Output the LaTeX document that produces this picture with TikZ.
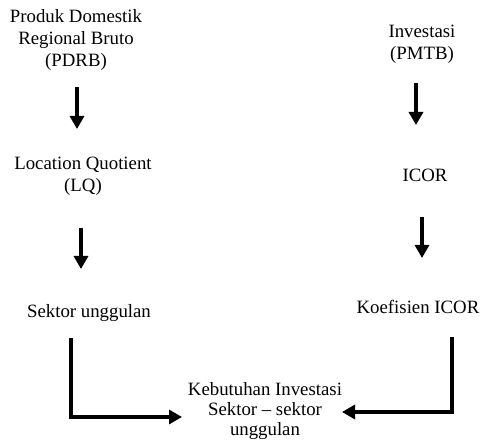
\documentclass[tikz,border=0pt]{standalone}
\usepackage{fontspec}
\setmainfont{Liberation Serif}
\usetikzlibrary{arrows.meta}
\begin{document}
\begin{tikzpicture}[x=1pt,y=-1pt,
  lbl/.style={align=center,inner sep=0pt,anchor=base,font=\fontsize{18.8}{22}\selectfont},
  arr/.style={line width=3.2pt,-{Triangle[width=14pt,length=13pt]}}]
\useasboundingbox (0,0) rectangle (480,441);
\node[lbl] (pdrb) at (76,67) {Produk Domestik\\Regional Bruto\\(PDRB)};
\node[lbl] (lq) at (83,192) {Location Quotient\\(LQ)};
\node[lbl] (sek) at (89,317) {Sektor unggulan};
\node[lbl] (inv) at (422,60) {Investasi\\(PMTB)};
\node[lbl] (icor) at (425,182) {ICOR};
\node[lbl] (koef) at (418,313) {Koefisien ICOR};
\node[lbl,font=\fontsize{18.8}{20}\selectfont] (keb) at (265,435) {Kebutuhan Investasi\\Sektor -- sektor\\unggulan};
\coordinate (a1s) at (77,87);  \coordinate (a1e) at (77,129);
\coordinate (a2s) at (81,228); \coordinate (a2e) at (81,269);
\coordinate (b1s) at (416,83); \coordinate (b1e) at (416,125);
\coordinate (b2s) at (422,217);\coordinate (b2e) at (422,258);
\coordinate (ls) at (71,338);  \coordinate (le) at (182,417);
\coordinate (rs) at (452,337); \coordinate (re) at (342,412);
\draw[arr] (a1s) -- (a1e);
\draw[arr] (a2s) -- (a2e);
\draw[arr] (b1s) -- (b1e);
\draw[arr] (b2s) -- (b2e);
\draw[arr] (ls) |- (le);
\draw[arr] (rs) |- (re);
\end{tikzpicture}
\end{document}
